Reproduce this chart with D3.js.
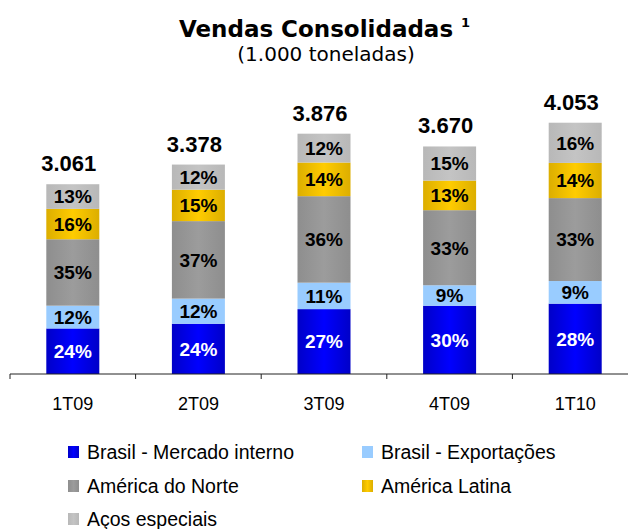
<!DOCTYPE html>
<html>
<head>
<meta charset="utf-8">
<script src="https://cdn.jsdelivr.net/npm/d3@7"></script>
<style>
  body { margin: 0; background: #fff; }
  svg { display: block; }
</style>
</head>
<body>
<div id="chart"></div>
<script>
const periods = ["1T09", "2T09", "3T09", "4T09", "1T10"];
const totals = [3061, 3378, 3876, 3670, 4053];
const totalLabels = ["3.061", "3.378", "3.876", "3.670", "4.053"];
const seriesNames = ["Brasil - Mercado interno", "Brasil - Exportações", "América do Norte", "América Latina", "Aços especiais"];
const mercadoInterno = [24, 24, 27, 30, 28];
const exportacoes = [12, 12, 11, 9, 9];
const americaNorte = [35, 37, 36, 33, 33];
const americaLatina = [16, 15, 14, 13, 14];
const acosEspeciais = [13, 12, 12, 15, 16];

const width = 628, height = 529;
const sans = "'Liberation Sans', Arial, sans-serif";
const verdana = "Verdana, 'DejaVu Sans', sans-serif";
const colors = [
  ["#0000c8", "#0000ff"],
  ["#99ccff", "#99ccff"],
  ["#8e8e8e", "#9c9c9c"],
  ["#dcae00", "#ffcc00"],
  ["#b8b8b8", "#c4c4c4"]
];

const svg = d3.select("#chart").append("svg")
  .attr("width", width)
  .attr("height", height);

// horizontal gradients, darker at the bar edges
const defs = svg.append("defs");
colors.forEach((c, i) => {
  const g = defs.append("linearGradient").attr("id", "grad" + i)
    .attr("x1", "0%").attr("x2", "100%").attr("y1", "0%").attr("y2", "0%");
  g.append("stop").attr("offset", "0%").attr("stop-color", c[0]);
  g.append("stop").attr("offset", "50%").attr("stop-color", c[1]);
  g.append("stop").attr("offset", "100%").attr("stop-color", c[0]);
});

// title
svg.append("text")
  .attr("x", 316).attr("y", 37)
  .attr("text-anchor", "middle")
  .attr("font-family", verdana)
  .attr("font-weight", "bold")
  .attr("font-size", 23)
  .text("Vendas Consolidadas");
svg.append("text")
  .attr("x", 461).attr("y", 27)
  .attr("font-family", verdana)
  .attr("font-weight", "bold")
  .attr("font-size", 13)
  .text("1");
svg.append("text")
  .attr("x", 326).attr("y", 61)
  .attr("text-anchor", "middle")
  .attr("font-family", verdana)
  .attr("font-size", 20)
  .text("(1.000 toneladas)");

const x = d3.scaleBand()
  .domain(periods)
  .range([10, 638])
  .paddingInner(0)
  .paddingOuter(0);

const y = d3.scaleLinear()
  .domain([0, 4500])
  .range([374, 95]);

const barW = 53;

const series = [mercadoInterno, exportacoes, americaNorte, americaLatina, acosEspeciais];
const rows = periods.map((p, i) => {
  const r = { period: p, total: totals[i] };
  seriesNames.forEach((s, k) => { r[s] = series[k][i] * totals[i] / 100; });
  return r;
});
const stacked = d3.stack().keys(seriesNames)(rows);

const layers = svg.append("g").selectAll("g")
  .data(stacked)
  .join("g")
  .attr("fill", (d, i) => `url(#grad${i})`);

layers.selectAll("rect")
  .data(d => d)
  .join("rect")
  .attr("x", d => x(d.data.period) + x.bandwidth() / 2 - barW / 2)
  .attr("width", barW)
  .attr("y", d => y(d[1]))
  .attr("height", d => y(d[0]) - y(d[1]));

// percentage labels
stacked.forEach((layer, k) => {
  svg.append("g").selectAll("text")
    .data(layer)
    .join("text")
    .attr("x", d => x(d.data.period) + x.bandwidth() / 2)
    .attr("y", d => (y(d[0]) + y(d[1])) / 2)
    .attr("dy", "0.36em")
    .attr("text-anchor", "middle")
    .attr("font-family", sans)
    .attr("font-weight", "bold")
    .attr("font-size", 19)
    .attr("fill", k === 0 ? "#fff" : "#000")
    .text((d, i) => series[k][i] + "%");
});

// totals
svg.append("g").selectAll("text")
  .data(rows)
  .join("text")
  .attr("x", d => x(d.period) + x.bandwidth() / 2 - 4)
  .attr("y", d => y(d.total) - 13)
  .attr("text-anchor", "middle")
  .attr("font-family", sans)
  .attr("font-weight", "bold")
  .attr("font-size", 22)
  .text((d, i) => totalLabels[i]);

// x axis
const axis = svg.append("g")
  .attr("transform", "translate(0,374)")
  .call(d3.axisBottom(x).tickSize(0).tickPadding(0).tickFormat(""));
axis.select(".domain").attr("stroke", "#222").attr("d", "M10,0H628");
axis.selectAll(".tick").remove();

axis.selectAll(".sep")
  .data(periods.map(p => x(p)))
  .join("line")
  .attr("x1", d => d).attr("x2", d => d)
  .attr("y1", 0).attr("y2", 5)
  .attr("stroke", "#222");

svg.append("g").selectAll("text")
  .data(periods)
  .join("text")
  .attr("x", d => x(d) + x.bandwidth() / 2)
  .attr("y", 410)
  .attr("text-anchor", "middle")
  .attr("font-family", sans)
  .attr("font-size", 18)
  .text(d => d);

// legend
const legendX = [68, 362];
const legendY = [452, 486, 519];
const legend = svg.append("g").selectAll("g")
  .data(seriesNames)
  .join("g")
  .attr("transform", (d, i) => `translate(${legendX[i % 2]},${legendY[Math.floor(i / 2)]})`);
legend.append("rect")
  .attr("x", 0).attr("y", -6)
  .attr("width", 11).attr("height", 12)
  .attr("fill", (d, i) => `url(#grad${i})`);
legend.append("text")
  .attr("x", 19).attr("y", 0)
  .attr("dy", "0.36em")
  .attr("font-family", sans)
  .attr("font-size", 19.5)
  .text(d => d);
</script>
</body>
</html>
